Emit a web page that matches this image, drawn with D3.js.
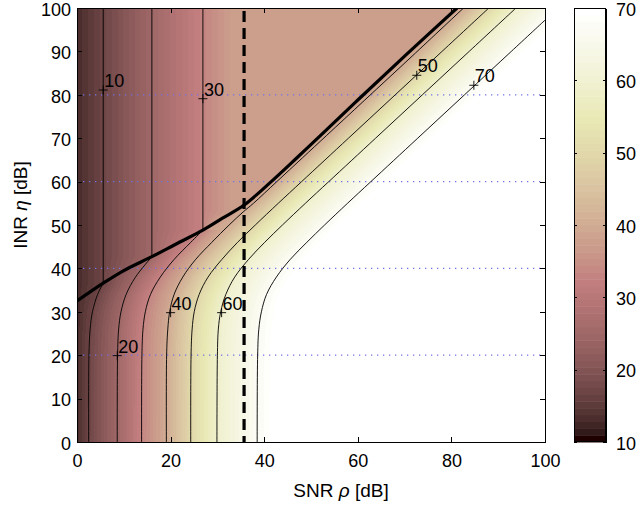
<!DOCTYPE html>
<html>
<head>
<meta charset="utf-8">
<script src="https://cdn.jsdelivr.net/npm/d3@7/dist/d3.min.js"></script>
<style>
  body { margin: 0; background: #fff; }
  svg { display: block; font-family: "Liberation Sans", Arial, sans-serif; }
</style>
</head>
<body>
<svg id="chart" width="636" height="508"></svg>
<script>
// axis ticks
const rhoTicks = [0, 20, 40, 60, 80, 100];
const etaTicks = [0, 10, 20, 30, 40, 50, 60, 70, 80, 90, 100];
const colorTicks = [10, 20, 30, 40, 50, 60, 70];
const gridEta = [20, 40, 60, 80];

// contour levels and their lines, [SNR rho, INR eta] in dB
const levels = [10, 20, 30, 40, 50, 60, 70];
const contour10 = [[2.5, 0], [2.55, 20], [2.8, 26], [3.3, 30], [4.4, 34], [5.6, 36.6]];
const contour20 = [[8.6, 0], [8.67, 20], [8.9, 26], [9.4, 30], [10.5, 34], [12.5, 38], [16, 42.7]];
const contour30 = [[13.8, 0], [13.87, 20], [14.1, 26], [14.6, 30], [15.7, 34], [17.8, 38], [20.7, 42], [24.3, 46], [26.9, 48.8]];
const contour40 = [[19.1, 0], [19.15, 20], [19.4, 26], [19.8, 30], [20.75, 34], [22.6, 38], [25.3, 42], [28.8, 46], [32.5, 50], [35.5, 53], [37.7, 55], [42.7, 60], [48.2, 65.5], [53.3, 70.6], [61.5, 78.8], [71.6, 88.9], [82.6, 100]];
const contour50 = [[24.3, 0], [24.37, 20], [24.6, 26], [25.05, 30], [26.1, 34], [28, 38], [30.9, 42], [34.3, 46], [38.1, 50], [43, 55], [48, 60], [58, 70], [68, 80], [78, 90], [88, 100]];
const contour60 = [[29.9, 0], [30, 20], [30.2, 26], [30.7, 30], [31.8, 34], [33.7, 38], [36.6, 42], [40.1, 46], [43.9, 50], [48.8, 55], [53.8, 60], [63.8, 70], [73.8, 80], [83.8, 90], [93.8, 100]];
const contour70 = [[38.5, 0], [38.6, 20], [38.85, 26], [39.4, 30], [40.5, 34], [42.6, 38], [45.5, 42], [49.1, 46], [52.9, 50], [57.8, 55], [62.8, 60], [72.8, 70], [82.8, 80], [92.8, 90], [100, 97.2]];
// vertical parts above the boundary curve (levels 10, 20, 30)
const upper10 = [[5.6, 36.6], [5.6, 100]];
const upper20 = [[16, 42.7], [16, 100]];
const upper30 = [[26.9, 48.8], [26.9, 100]];

// thick boundary curve and dashed vertical line
const boundary = [[0, 32.5], [5.6, 36.6], [10, 39.5], [16, 42.7], [21.5, 45.8], [26.9, 48.8], [31, 51.5], [35.7, 54.6], [41.5, 60], [47, 65.5], [52, 70.6], [60, 78.8], [70, 88.9], [81.2, 100]];
const dashedRho = 35.7;

// contour labels: [rho, eta, text]
const labelPoints = [[5.6, 81.1, '10'], [26.9, 79.1, '30'], [8.6, 19.9, '20'], [20, 29.8, '40'], [30.9, 29.8, '60'], [72.6, 84.5, '50'], [84.8, 82.2, '70']];

// shade (colour bar value) seen on each contour, on the flat region and at rho = 0
const shadeAtLevel = [17, 25, 33, 40, 50, 59, 67];
const plateauShade = 38;
const edgeShade = 13;

const lowerBranches = [contour10, contour20, contour30, contour40, contour50, contour60, contour70];
const upperBranches = [upper10, upper20, upper30];

const margin = { top: 8, left: 77 };
const width = 468;
const height = 434;
const fontSize = 18;

const svg = d3.select('#chart');

const x = d3.scaleLinear().domain([0, 100]).range([margin.left, margin.left + width]);
const y = d3.scaleLinear().domain([0, 100]).range([margin.top + height, margin.top]);

// MATLAB "pink" colormap, 64 entries
const pinkMap = d3.range(64).map(i => {
    const g = i / 63;
    const hr = i < 24 ? (i + 1) / 24 : 1;
    const hg = i < 24 ? 0 : (i < 48 ? (i - 23) / 24 : 1);
    const hb = i < 48 ? 0 : (i - 47) / 16;
    return [hr, hg, hb].map(h => Math.round(255 * Math.sqrt((2 * g + h) / 3)));
});
const colorIndex = d3.scaleQuantize().domain([10, 70]).range(d3.range(64));
function shadeColor(v) {
    const idx = v <= 10 ? 0 : (v >= 70 ? 63 : colorIndex(v));
    return pinkMap[idx];
}

// rho of a contour line at a given eta (linear between read points)
function rhoAt(points, eta) {
    const s = d3.scaleLinear().domain(points.map(d => d[1])).range(points.map(d => d[0]));
    return s(eta);
}

const fullContours = lowerBranches.map((b, i) => i < 3 ? b.concat(upperBranches[i].slice(1)) : b);

// background field, drawn to a canvas and placed as an image
const canvas = document.createElement('canvas');
canvas.width = width;
canvas.height = height;
const ctx = canvas.getContext('2d');
const img = ctx.createImageData(width, height);
for (let py = 0; py < height; py++) {
    const eta = y.invert(margin.top + py + 0.5);
    const rhos = fullContours.map(c => rhoAt(c, eta));
    const thick = rhoAt(boundary, eta);
    let knots = [[0, edgeShade]];
    for (let k = 0; k < 3; k++) knots.push([rhos[k], shadeAtLevel[k]]);
    if (eta > boundary[0][1] && thick > rhos[2]) {
        knots.push([Math.min(rhos[2] + 7, thick), plateauShade]);
        knots.push([thick, plateauShade]);
    }
    for (let k = 3; k < 7; k++) knots.push([rhos[k], shadeAtLevel[k]]);
    knots.push([rhos[6] + 5, 71]);
    const clean = [];
    knots.forEach(kn => {
        if (!clean.length || kn[0] > clean[clean.length - 1][0] + 1e-6) clean.push(kn);
    });
    const field = d3.scaleLinear().domain(clean.map(d => d[0])).range(clean.map(d => d[1])).clamp(true);
    for (let px = 0; px < width; px++) {
        const rho = x.invert(margin.left + px + 0.5);
        const c = shadeColor(field(rho));
        const o = (py * width + px) * 4;
        img.data[o] = c[0];
        img.data[o + 1] = c[1];
        img.data[o + 2] = c[2];
        img.data[o + 3] = 255;
    }
}
ctx.putImageData(img, 0, 0);

svg.append('defs').append('clipPath').attr('id', 'plot-clip')
    .append('rect')
    .attr('x', margin.left).attr('y', margin.top)
    .attr('width', width).attr('height', height);

svg.append('image')
    .attr('x', margin.left)
    .attr('y', margin.top)
    .attr('width', width)
    .attr('height', height)
    .attr('preserveAspectRatio', 'none')
    .attr('href', canvas.toDataURL());

const plot = svg.append('g').attr('clip-path', 'url(#plot-clip)');

// dotted horizontal lines
plot.selectAll('.grid')
    .data(gridEta)
    .enter()
    .append('line')
    .attr('x1', x(0)).attr('x2', x(100))
    .attr('y1', d => y(d)).attr('y2', d => y(d))
    .attr('stroke', '#7272e8')
    .attr('stroke-width', 1.2)
    .attr('stroke-dasharray', '1.3,4.7');

const curve = d3.line().x(d => x(d[0])).y(d => y(d[1])).curve(d3.curveCatmullRom);
const straight = d3.line().x(d => x(d[0])).y(d => y(d[1]));

plot.selectAll('.contour')
    .data(lowerBranches)
    .enter()
    .append('path')
    .attr('d', curve)
    .attr('fill', 'none')
    .attr('stroke', '#000')
    .attr('stroke-width', 0.9);

plot.selectAll('.upper')
    .data(upperBranches)
    .enter()
    .append('path')
    .attr('d', straight)
    .attr('fill', 'none')
    .attr('stroke', '#000')
    .attr('stroke-width', 0.9);

plot.append('path')
    .attr('d', curve(boundary))
    .attr('fill', 'none')
    .attr('stroke', '#000')
    .attr('stroke-width', 3.2);

plot.append('line')
    .attr('x1', x(dashedRho)).attr('x2', x(dashedRho))
    .attr('y1', y(99.3)).attr('y2', y(0))
    .attr('stroke', '#000')
    .attr('stroke-width', 3.2)
    .attr('stroke-dasharray', '11,6');

// contour labels with "+" markers
const labels = plot.selectAll('.clabel')
    .data(labelPoints)
    .enter()
    .append('g')
    .attr('transform', d => `translate(${x(d[0])},${y(d[1])})`);
labels.append('path')
    .attr('d', 'M-4.5,0H4.5M0,-4.5V4.5')
    .attr('stroke', '#000')
    .attr('stroke-width', 0.9);
labels.append('text')
    .attr('x', 1)
    .attr('y', -3)
    .attr('font-size', fontSize)
    .attr('fill', '#000')
    .text(d => d[2]);

// axes with inward ticks on all four sides
function styleAxis(g) {
    g.selectAll('path, line').attr('stroke', '#000').attr('shape-rendering', 'crispEdges');
    g.selectAll('text').attr('font-size', fontSize).attr('font-family', '"Liberation Sans", Arial, sans-serif').attr('fill', '#000');
}

svg.append('g')
    .attr('transform', `translate(0,${margin.top + height})`)
    .call(d3.axisBottom(x).tickValues(rhoTicks).tickSizeInner(-5).tickSizeOuter(0).tickPadding(12))
    .call(styleAxis);
svg.append('g')
    .attr('transform', `translate(0,${margin.top})`)
    .call(d3.axisTop(x).tickValues(rhoTicks).tickSizeInner(-5).tickSizeOuter(0).tickFormat(''))
    .call(styleAxis);
svg.append('g')
    .attr('transform', `translate(${margin.left},0)`)
    .call(d3.axisLeft(y).tickValues(etaTicks).tickSizeInner(-5).tickSizeOuter(0).tickPadding(6))
    .call(styleAxis)
    .selectAll('text').attr('y', 1.5);
svg.append('g')
    .attr('transform', `translate(${margin.left + width},0)`)
    .call(d3.axisRight(y).tickValues(etaTicks).tickSizeInner(-5).tickSizeOuter(0).tickFormat(''))
    .call(styleAxis);

// axis titles
svg.append('text')
    .attr('x', 341)
    .attr('y', 497)
    .attr('text-anchor', 'middle')
    .attr('font-size', 19)
    .html('SNR <tspan font-style="italic">ρ</tspan> [dB]');

svg.append('text')
    .attr('transform', 'translate(27,205) rotate(-90)')
    .attr('text-anchor', 'middle')
    .attr('font-size', 19)
    .html('INR <tspan font-style="italic">η</tspan> [dB]');

// colour bar
const cb = { left: 574, width: 32 };
const cy = d3.scaleLinear().domain([10, 70]).range([margin.top + height, margin.top]);
const step = 60 / 64;
svg.selectAll('.cbar')
    .data(d3.range(64))
    .enter()
    .append('rect')
    .attr('x', cb.left)
    .attr('width', cb.width)
    .attr('y', i => cy(10 + (i + 1) * step))
    .attr('height', i => cy(10 + i * step) - cy(10 + (i + 1) * step) + 0.5)
    .attr('fill', i => `rgb(${pinkMap[i].join(',')})`);

svg.append('g')
    .attr('transform', `translate(${cb.left + cb.width},0)`)
    .call(d3.axisRight(cy).tickValues(colorTicks).tickSizeInner(-3).tickSizeOuter(0).tickPadding(10))
    .call(styleAxis)
    .selectAll('text').attr('y', 1.5);
svg.append('g')
    .attr('transform', `translate(${cb.left},0)`)
    .call(d3.axisLeft(cy).tickValues(colorTicks).tickSizeInner(-3).tickSizeOuter(0).tickFormat(''))
    .call(styleAxis);
svg.append('rect')
    .attr('x', cb.left + 0.5).attr('y', margin.top + 0.5)
    .attr('width', cb.width - 1).attr('height', height - 1)
    .attr('fill', 'none')
    .attr('stroke', '#000')
    .attr('stroke-width', 1);
</script>
</body>
</html>
